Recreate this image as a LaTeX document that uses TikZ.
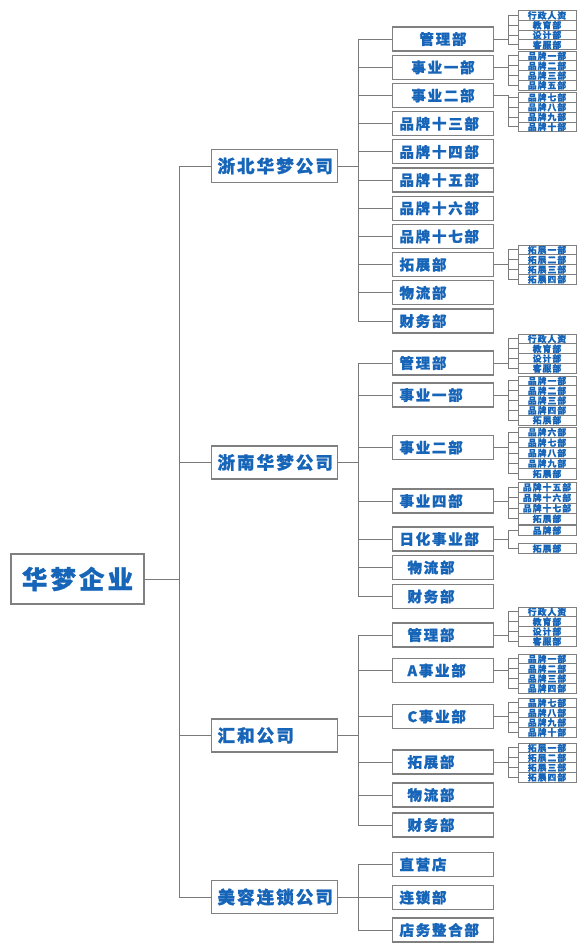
\documentclass[tikz,border=0pt]{standalone}
\usepackage{fontspec}
\usepackage{tikz}
\usetikzlibrary{positioning,calc}
\usepackage{xcolor}
\definecolor{hmBlue}{HTML}{1765B8}
\definecolor{hmBorder}{HTML}{808080}
\definecolor{hmLine}{HTML}{7A7A7A}
\newfontfamily\cjk[LetterSpace=12,BoldFeatures={FakeBold=1}]{Noto Sans CJK SC}
\tikzset{
    % box styles, one per level
    corpbox/.style={rectangle,draw=hmBorder,fill=white,line width=1.1pt,text=hmBlue,inner ysep=0pt},
    rootbox/.style={corpbox,minimum width=133pt,minimum height=50pt,font=\cjk\bfseries\fontsize{25.5}{28}\selectfont},
    compbox/.style={corpbox,minimum height=33pt,text width=114pt,inner xsep=6pt,align=left,font=\cjk\bfseries\fontsize{17.5}{20}\selectfont},
    deptbox/.style={corpbox,minimum height=24pt,text width=87pt,inner xsep=7pt,align=left,font=\cjk\bfseries\fontsize{14.5}{17}\selectfont},
    deptmid/.style={deptbox,align=center},
    deptind/.style={deptbox,text width=71pt,inner xsep=15pt},
    leafbox/.style={corpbox,line width=0.8pt,minimum width=58pt,minimum height=9.8pt,inner sep=0pt,font=\cjk\bfseries\fontsize{8.8}{9}\selectfont},
    % connector style
    link/.style={draw=hmLine,line width=0.9pt}
}

\begin{document}
\begin{tikzpicture}[x=1pt,y=-1pt]
  \fill[white] (0,0) rectangle (585,950);
  \useasboundingbox (0,0) rectangle (585,950);

  % Group root
  \node[rootbox] (hm) at (77.5,579) {华梦企业};

  % Companies
  \node[compbox] (zb) at (274.5,166) {浙北华梦公司};
  \node[compbox] (zn) at (274.5,462.5) {浙南华梦公司};
  \node[compbox] (hh) at (274.5,735.5) {汇和公司};
  \node[compbox] (mr) at (274.5,897) {美容连锁公司};
  \foreach \c in {zb,zn,hh,mr}
    \draw[link] (hm.east) -- ++(34.5,0) |- (\c.west);

  % Zhebei departments
  \node[deptmid] (zb1) at (443,39) {管理部};
  \node[deptmid] (zb2) at (443,67.3) {事业一部};
  \node[deptmid] (zb3) at (443,95.5) {事业二部};
  \node[deptbox] (zb4) at (443,123.7) {品牌十三部};
  \node[deptbox] (zb5) at (443,151.9) {品牌十四部};
  \node[deptbox] (zb6) at (443,180) {品牌十五部};
  \node[deptbox] (zb7) at (443,208.2) {品牌十六部};
  \node[deptbox] (zb8) at (443,236.4) {品牌十七部};
  \node[deptbox] (zb9) at (443,264.6) {拓展部};
  \node[deptbox] (zb10) at (443,292.8) {物流部};
  \node[deptbox] (zb11) at (443,321) {财务部};
  \foreach \d in {1,...,11}
    \draw[link] (zb.east) -- ++(20.5,0) |- (zb\d.west);

  % Zhebei sub units
  \foreach \t [count=\i] in {行政人资,教育部,设计部,客服部} {
    \node[leafbox] (zb1-\i) at (547,{10.5+9.8*\i-4.9}) {\t};
    \draw[link] (zb1.east) -- ++(14,0) |- (zb1-\i.west);
  }
  \foreach \t [count=\i] in {品牌一部,品牌二部,品牌三部,品牌五部} {
    \node[leafbox] (zb2-\i) at (547,{51+9.8*\i-4.9}) {\t};
    \draw[link] (zb2.east) -- ++(14,0) |- (zb2-\i.west);
  }
  \foreach \t [count=\i] in {品牌七部,品牌八部,品牌九部,品牌十部} {
    \node[leafbox] (zb3-\i) at (547,{92.5+9.8*\i-4.9}) {\t};
    \draw[link] (zb3.east) -- ++(14,0) |- (zb3-\i.west);
  }
  \foreach \t [count=\i] in {拓展一部,拓展二部,拓展三部,拓展四部} {
    \node[leafbox] (zb9-\i) at (547,{245+9.8*\i-4.9}) {\t};
    \draw[link] (zb9.east) -- ++(14,0) |- (zb9-\i.west);
  }

  % Zhenan departments
  \node[deptbox] (zn1) at (443,363) {管理部};
  \node[deptbox] (zn2) at (443,395) {事业一部};
  \node[deptbox] (zn3) at (443,447.5) {事业二部};
  \node[deptbox] (zn4) at (443,501) {事业四部};
  \node[deptbox] (zn5) at (443,539) {日化事业部};
  \node[deptind] (zn6) at (443,567.5) {物流部};
  \node[deptind] (zn7) at (443,596.5) {财务部};
  \foreach \d in {1,...,7}
    \draw[link] (zn.east) -- ++(20.5,0) |- (zn\d.west);

  % Zhenan sub units
  \foreach \t [count=\i] in {行政人资,教育部,设计部,客服部} {
    \node[leafbox] (zn1-\i) at (547,{334+9.8*\i-4.9}) {\t};
    \draw[link] (zn1.east) -- ++(14,0) |- (zn1-\i.west);
  }
  \foreach \t [count=\i] in {品牌一部,品牌二部,品牌三部,品牌四部,拓展部} {
    \node[leafbox] (zn2-\i) at (547,{376+9.8*\i-4.9}) {\t};
    \draw[link] (zn2.east) -- ++(14,0) |- (zn2-\i.west);
  }
  \foreach \t [count=\i] in {品牌六部,品牌七部,品牌八部,品牌九部,拓展部} {
    \node[leafbox,minimum height=10.4pt] (zn3-\i) at (547,{427+10.4*\i-5.2}) {\t};
    \draw[link] (zn3.east) -- ++(14,0) |- (zn3-\i.west);
  }
  \foreach \t [count=\i] in {品牌十五部,品牌十六部,品牌十七部,拓展部} {
    \node[leafbox,minimum height=10.5pt] (zn4-\i) at (547,{482+10.5*\i-5.25}) {\t};
    \draw[link] (zn4.east) -- ++(14,0) |- (zn4-\i.west);
  }
  \node[leafbox] (zn5-1) at (547,530.5) {品牌部};
  \node[leafbox] (zn5-2) at (547,548.5) {拓展部};
  \foreach \i in {1,2}
    \draw[link] (zn5.east) -- ++(14,0) |- (zn5-\i.west);

  % Huihe departments
  \node[deptind] (hh1) at (443,635) {管理部};
  \node[deptind] (hh2) at (443,670.5) {A事业部};
  \node[deptind] (hh3) at (443,716.5) {C事业部};
  \node[deptind] (hh4) at (443,762) {拓展部};
  \node[deptind] (hh5) at (443,795) {物流部};
  \node[deptind] (hh6) at (443,825) {财务部};
  \foreach \d in {1,...,6}
    \draw[link] (hh.east) -- ++(20.5,0) |- (hh\d.west);

  % Huihe sub units
  \foreach \t [count=\i] in {行政人资,教育部,设计部,客服部} {
    \node[leafbox] (hh1-\i) at (547,{607+9.8*\i-4.9}) {\t};
    \draw[link] (hh1.east) -- ++(14,0) |- (hh1-\i.west);
  }
  \foreach \t [count=\i] in {品牌一部,品牌二部,品牌三部,品牌四部} {
    \node[leafbox] (hh2-\i) at (547,{654+9.8*\i-4.9}) {\t};
    \draw[link] (hh2.east) -- ++(14,0) |- (hh2-\i.west);
  }
  \foreach \t [count=\i] in {品牌七部,品牌八部,品牌九部,品牌十部} {
    \node[leafbox] (hh3-\i) at (547,{698+9.8*\i-4.9}) {\t};
    \draw[link] (hh3.east) -- ++(14,0) |- (hh3-\i.west);
  }
  \foreach \t [count=\i] in {拓展一部,拓展二部,拓展三部,拓展四部} {
    \node[leafbox] (hh4-\i) at (547,{743+9.8*\i-4.9}) {\t};
    \draw[link] (hh4.east) -- ++(14,0) |- (hh4-\i.west);
  }

  % Meirong departments
  \node[deptbox] (mr1) at (443,864.5) {直营店};
  \node[deptbox] (mr2) at (443,897.5) {连锁部};
  \node[deptbox] (mr3) at (443,930) {店务整合部};
  \foreach \d in {1,2,3}
    \draw[link] (mr.east) -- ++(20.5,0) |- (mr\d.west);
\end{tikzpicture}
\end{document}
